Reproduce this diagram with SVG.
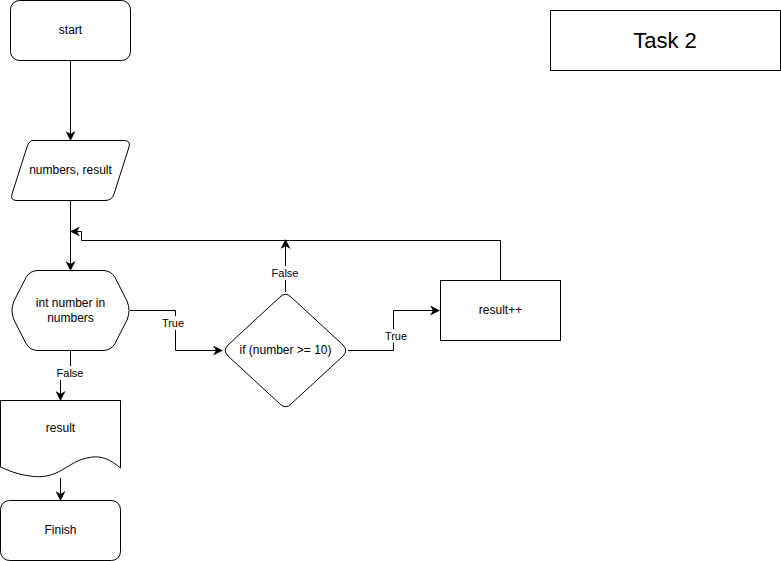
<svg xmlns="http://www.w3.org/2000/svg" width="781" height="561" viewBox="0 0 781 561">
<defs>
<style>
.shape{fill:#fff;stroke:#000;stroke-width:1}
.t{font-family:"Liberation Sans",Arial,sans-serif;font-size:12px;fill:#000;text-anchor:middle;dominant-baseline:central}
.lbl{font-family:"Liberation Sans",Arial,sans-serif;font-size:11px;fill:#000;text-anchor:middle;dominant-baseline:central}
.edge{fill:none;stroke:#000;stroke-width:1}
.lblbg{fill:#fff}
</style>
<marker id="arr" viewBox="0 0 10 10" refX="9" refY="5" markerWidth="10" markerHeight="10" markerUnits="userSpaceOnUse" orient="auto">
<path d="M0,0 L10,5 L0,10 L3,5 Z" fill="#000"/>
</marker>
</defs>
<rect width="781" height="561" fill="#fff"/>
<g id="connectors">
<path class="edge" d="M70.5,60.5 V140" marker-end="url(#arr)"/>
<path class="edge" d="M70.5,200.5 V270" marker-end="url(#arr)"/>
<path class="edge" d="M130,310.5 H175.5 V350.5 H222" marker-end="url(#arr)"/>
<path class="edge" d="M70.5,350 V375.5 H60.5 V400" marker-end="url(#arr)"/>
<path class="edge" d="M60.5,478 V500" marker-end="url(#arr)"/>
<path class="edge" d="M285.5,292 V240" marker-end="url(#arr)"/>
<path class="edge" d="M348,350.5 H393.5 V310.5 H439" marker-end="url(#arr)"/>
<path class="edge" d="M500.5,280 V240.5 H81.5 V231.5 H71" marker-end="url(#arr)"/>
<rect class="lblbg" x="158" y="316" width="30" height="14"/>
<text class="lbl" x="173" y="323">True</text>
<rect class="lblbg" x="53" y="366" width="34" height="14"/>
<text class="lbl" x="70" y="373">False</text>
<rect class="lblbg" x="268" y="266" width="34" height="14"/>
<text class="lbl" x="285" y="273">False</text>
<rect class="lblbg" x="381" y="329" width="30" height="14"/>
<text class="lbl" x="396" y="336">True</text>
</g>
<g id="start">
<rect class="shape" x="10.5" y="0.5" width="120" height="60" rx="9" ry="9"/>
<text class="t" x="70.5" y="30">start</text>
</g>
<g id="input">
<path class="shape" d="M33,140.5 H124 Q131,140.5 129,147 L114,194 Q112,200.5 105,200.5 H17 Q10,200.5 12,194 L27,147 Q29,140.5 33,140.5 Z"/>
<text class="t" x="70.5" y="170">numbers, result</text>
</g>
<g id="loop">
<path class="shape" d="M38,270.5 H103 Q111,270.5 115,277.5 L127,301 Q131,310.5 127,320 L115,343.5 Q111,350.5 103,350.5 H38 Q30,350.5 26,343.5 L14,320 Q10,310.5 14,301 L26,277.5 Q30,270.5 38,270.5 Z"/>
<text class="t" x="70.5" y="303">int number in</text>
<text class="t" x="70.5" y="318">numbers</text>
</g>
<g id="decision">
<path class="shape" d="M280,297 Q285.5,291.5 291,297 L343,345 Q348.5,350.5 343,356 L291,404 Q285.5,409.5 280,404 L228,356 Q222.5,350.5 228,345 Z"/>
<text class="t" x="285.5" y="350">if (number &gt;= 10)</text>
</g>
<g id="increment">
<rect class="shape" x="440.5" y="280.5" width="120" height="60"/>
<text class="t" x="500.5" y="310">result++</text>
</g>
<g id="output">
<path class="shape" d="M0.5,400.5 H120.5 V468 C105,455 95,455 80,460 C65,466 55,480 30,476 C15,474 8,470 0.5,467 Z"/>
<text class="t" x="60.5" y="428">result</text>
</g>
<g id="finish">
<rect class="shape" x="0.5" y="500.5" width="120" height="60" rx="9" ry="9"/>
<text class="t" x="60.5" y="530">Finish</text>
</g>
<g id="title">
<rect class="shape" x="550.5" y="10.5" width="230" height="60"/>
<text class="t" x="665" y="40" style="font-size:22px">Task 2</text>
</g>
</svg>
